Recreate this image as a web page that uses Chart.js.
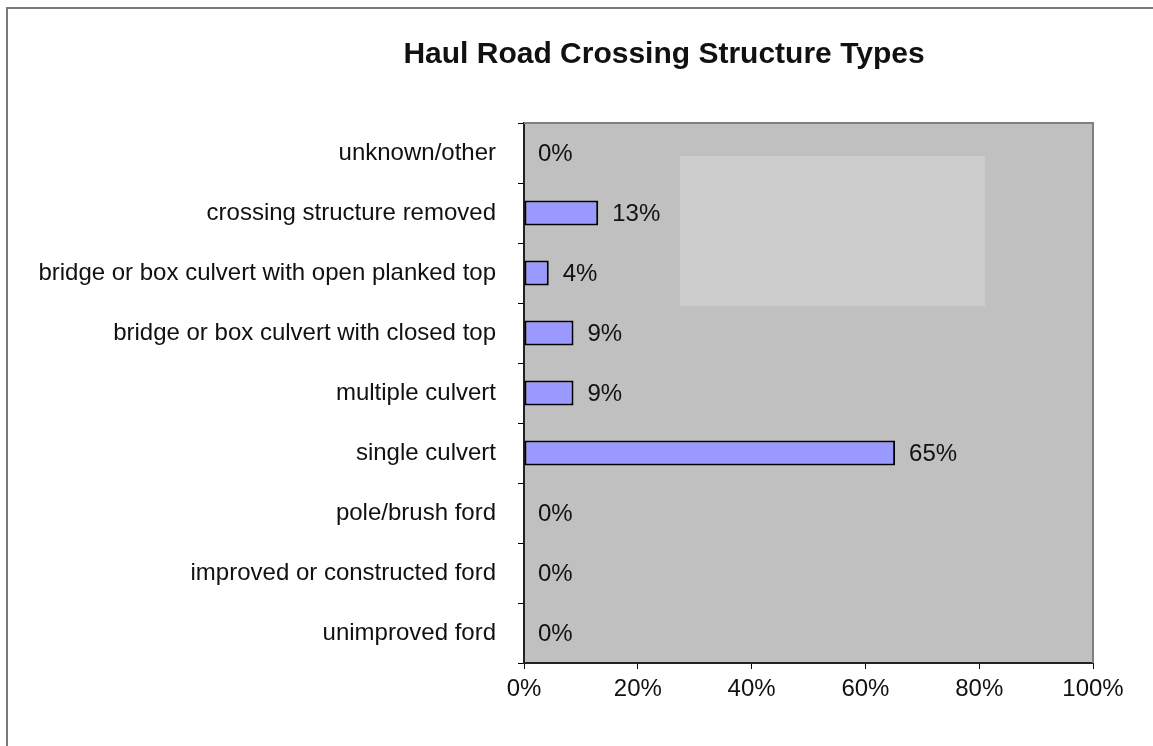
<!DOCTYPE html>
<html>
<head>
<meta charset="utf-8">
<script src="https://cdn.jsdelivr.net/npm/chart.js@4.4.1/dist/chart.umd.min.js"></script>
<style>
  html, body { margin: 0; padding: 0; background: #fff; width: 1153px; height: 746px; overflow: hidden; }
  #frame { position: absolute; left: 6px; top: 7px; width: 1160px; height: 760px; border-left: 2px solid #7a7a7a; border-top: 2px solid #7a7a7a; box-sizing: border-box; }
  #c { position: absolute; left: 0; top: 0; }
</style>
</head>
<body>
<div id="frame"></div>
<canvas id="c" width="1153" height="746"></canvas>
<script>
const chartTitle = 'Haul Road Crossing Structure Types';
const categories = [
  'unknown/other',
  'crossing structure removed',
  'bridge or box culvert with open planked top',
  'bridge or box culvert with closed top',
  'multiple culvert',
  'single culvert',
  'pole/brush ford',
  'improved or constructed ford',
  'unimproved ford'
];
const shares = [0, 13.04, 4.35, 8.70, 8.70, 65.22, 0, 0, 0];
const xTicks = [0, 20, 40, 60, 80, 100];

const FONT = '"Liberation Sans", Arial, sans-serif';

const decor = {
  id: 'decor',
  beforeDraw(chart) {
    const { ctx, chartArea: a } = chart;
    ctx.save();
    ctx.fillStyle = '#c0c0c0';
    ctx.fillRect(a.left, a.top, a.right - a.left, a.bottom - a.top);
    // lighter box inside the plot (empty legend area)
    const w = a.right - a.left, h = a.bottom - a.top;
    ctx.fillStyle = '#cdcdcd';
    ctx.fillRect(a.left + w * 0.274, a.top + h * 0.061, w * 0.536, h * 0.278);
    ctx.restore();
  },
  afterDraw(chart) {
    const { ctx, chartArea: a } = chart;
    ctx.save();
    ctx.strokeStyle = '#808080';
    ctx.lineWidth = 2;
    ctx.beginPath();
    ctx.moveTo(a.left, a.top);
    ctx.lineTo(a.right, a.top);
    ctx.lineTo(a.right, a.bottom);
    ctx.stroke();
    // title
    ctx.fillStyle = '#111';
    ctx.font = 'bold 30px ' + FONT;
    ctx.textAlign = 'center';
    ctx.textBaseline = 'alphabetic';
    ctx.fillText(chartTitle, 664, 63);
    // value labels
    const meta = chart.getDatasetMeta(0);
    ctx.font = '24px ' + FONT;
    ctx.textAlign = 'left';
    ctx.textBaseline = 'middle';
    meta.data.forEach((bar, i) => {
      const v = shares[i];
      ctx.fillText(Math.round(v) + '%', bar.x + 14, bar.y + 1);
    });
    ctx.restore();
  }
};

new Chart(document.getElementById('c'), {
  type: 'bar',
  data: {
    labels: categories,
    datasets: [{
      data: shares,
      backgroundColor: '#9999ff',
      borderColor: '#000',
      borderWidth: 2,
      borderSkipped: false,
      barPercentage: 0.42,
      categoryPercentage: 1
    }]
  },
  options: {
    indexAxis: 'y',
    responsive: false,
    animation: false,
    devicePixelRatio: 1,
    layout: { padding: { left: 0, right: 60, top: 123, bottom: 33 } },
    plugins: { legend: { display: false }, title: { display: false }, tooltip: { enabled: false } },
    scales: {
      x: {
        type: 'linear',
        min: 0, max: 100,
        afterBuildTicks(s) { s.ticks = xTicks.map(v => ({ value: v })); },
        afterFit(s) { s.height = 50; },
        grid: { drawOnChartArea: false, drawTicks: true, tickLength: 6, color: '#000', lineWidth: 1 },
        border: { color: '#222', width: 2 },
        ticks: { callback: v => v + '%', color: '#111', font: { family: FONT, size: 24 }, padding: 6, maxRotation: 0 }
      },
      y: {
        type: 'category',
        offset: true,
        afterFit(s) { s.width = 524; },
        grid: { offset: true, drawOnChartArea: false, drawTicks: true, tickLength: 6, color: '#000', lineWidth: 1 },
        border: { color: '#222', width: 2 },
        ticks: { color: '#111', font: { family: FONT, size: 24 }, padding: 22, autoSkip: false }
      }
    }
  },
  plugins: [decor]
});
</script>
</body>
</html>
